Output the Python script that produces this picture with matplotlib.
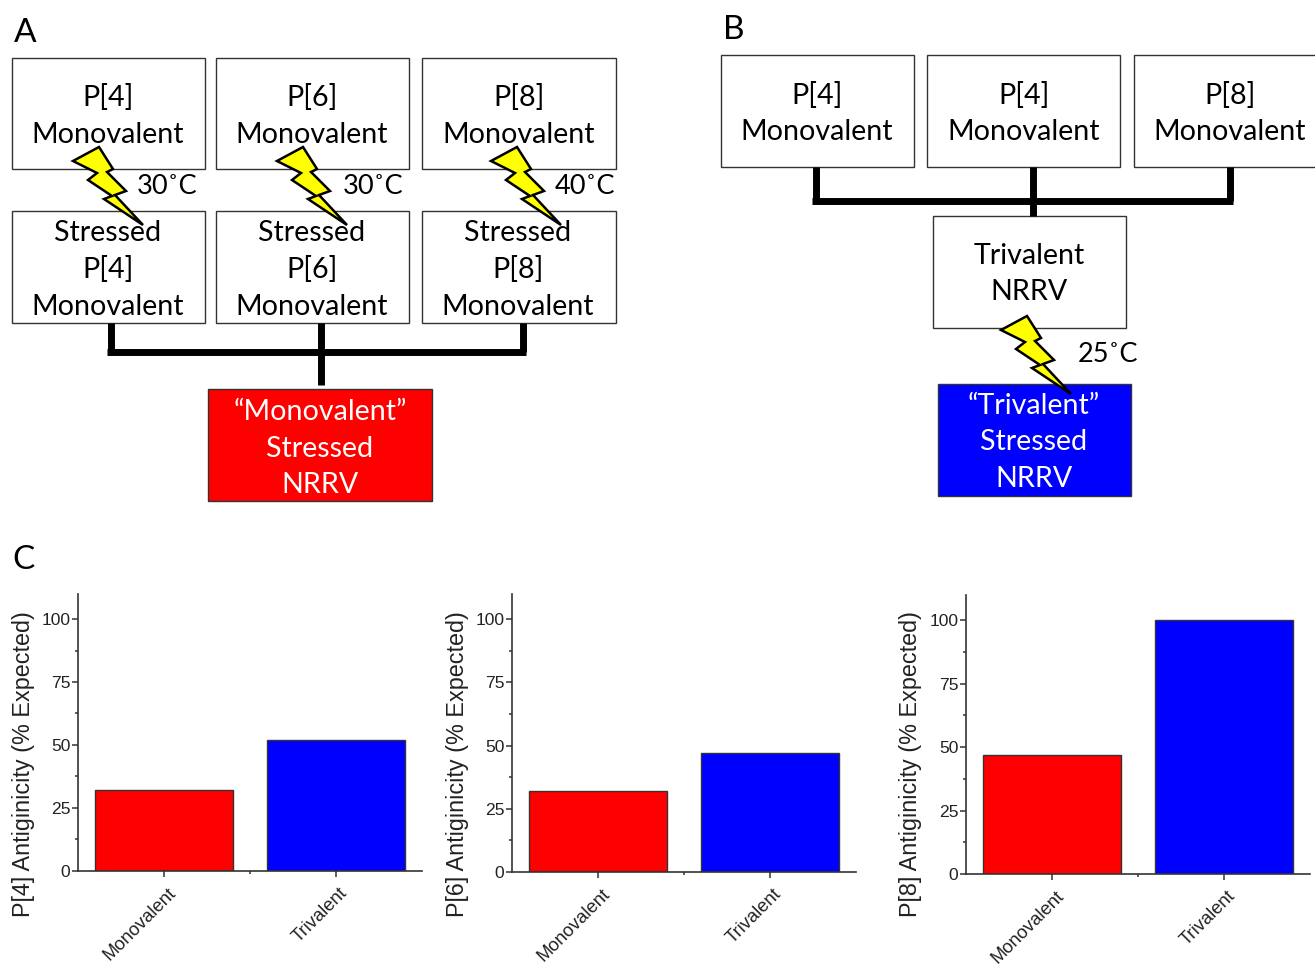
# Panels A/B: vaccine stress schematics, panel C: antigenicity bars

import matplotlib
matplotlib.use("Agg")
import matplotlib.pyplot as plt
from matplotlib.patches import Polygon, Rectangle
from matplotlib.transforms import ScaledTranslation

# ===== data =====
CATEGORIES = ["Monovalent", "Trivalent"]
P4_VALUES = [32, 52]
P6_VALUES = [32, 47]
P8_VALUES = [47, 100]
Y_TICKS = [0, 25, 50, 75, 100]
Y_LABELS = ["P[4] Antiginicity (% Expected)", "P[6] Antiginicity (% Expected)", "P[8] Antiginicity (% Expected)"]

W, H = 1315, 966
DIAGRAM_FONT = ["Lato", "DejaVu Sans"]
CHART_FONT = "Liberation Sans"

fig = plt.figure(figsize=(W / 100, H / 100), dpi=100)

# whole-figure axes in pixel coords for the schematics
bg = fig.add_axes([0, 0, 1, 1])
bg.set_xlim(0, W)
bg.set_ylim(H, 0)
bg.axis("off")


def box(x0, y0, x1, y1, lines, y_lines, text_x, fc="white", tc="black"):
    bg.add_patch(Rectangle((x0, y0), x1 - x0, y1 - y0, fc=fc, ec="#333333", lw=1.0, zorder=2))
    for line, y in zip(lines, y_lines):
        bg.text(text_x, y + 2, line, color=tc, ha="center", va="center", fontsize=20.6,
                family=DIAGRAM_FONT, zorder=5)


def bolt(dx, dy):
    pts = [(99, 147), (113, 169), (107, 172), (126, 191), (115, 195), (143, 225),
           (104, 199), (112, 196), (88, 180), (97, 173), (73, 161)]
    bg.add_patch(Polygon([(x + dx, y + dy) for x, y in pts], closed=True, fc="#ffff00",
                         ec="black", lw=1.8, joinstyle="miter", zorder=4))


def connector(segments):
    for (x0, y0, x1, y1) in segments:
        bg.plot([x0, x1], [y0, y1], color="black", lw=5.0, solid_capstyle="butt", zorder=3)


def temp(x, y, label):
    bg.text(x, y + 2, label, fontsize=19.5, family=DIAGRAM_FONT, ha="center", va="center", zorder=5)


# Panel A
bg.text(14, 33, "A", fontsize=24, family=DIAGRAM_FONT, va="center")
box(12, 58, 205, 169, ["P[4]", "Monovalent"], [96, 133], 108)
box(216, 58, 409, 169, ["P[6]", "Monovalent"], [96, 133], 312)
box(422, 58, 616, 169, ["P[8]", "Monovalent"], [96, 133], 519)
box(12, 211, 205, 323, ["Stressed", "P[4]", "Monovalent"], [231, 268, 305], 108)
box(216, 211, 409, 323, ["Stressed", "P[6]", "Monovalent"], [231, 268, 305], 312)
box(422, 211, 616, 323, ["Stressed", "P[8]", "Monovalent"], [231, 268, 305], 518)
box(208, 389, 432, 501, ["\u201cMonovalent\u201d", "Stressed", "NRRV"], [410, 447, 483], 320,
    fc="#ff0000", tc="white")
connector([(107.5, 352, 526.5, 352), (111, 323, 111, 352), (321, 323, 321, 385), (523, 323, 523, 352)])
bolt(0, 0)
bolt(204, 0)
bolt(418, 0)
temp(167, 185, "30\u02daC")
temp(373, 185, "30\u02daC")
temp(585, 185, "40\u02daC")

# Panel B
bg.text(723, 30, "B", fontsize=24, family=DIAGRAM_FONT, va="center")
box(721, 55, 914, 167, ["P[4]", "Monovalent"], [93, 130], 817)
box(927, 55, 1120, 167, ["P[4]", "Monovalent"], [93, 130], 1024)
box(1134, 55, 1327, 167, ["P[8]", "Monovalent"], [93, 130], 1230)
box(933, 216, 1126, 328, ["Trivalent", "NRRV"], [254, 290], 1029)
box(938, 384, 1131, 496, ["\u201cTrivalent\u201d", "Stressed", "NRRV"], [404, 440, 477], 1034,
    fc="#0000ff", tc="white")
connector([(812.5, 201, 1233.5, 201), (816, 167, 816, 201), (1033, 167, 1033, 216), (1230, 167, 1230, 201)])
bolt(928, 169)
temp(1108, 353, "25\u02daC")

# Panel C
bg.text(12, 560, "C", fontsize=24, family=DIAGRAM_FONT, va="center")


def bar_panel(left, right, top, bottom, values, ylabel, label_x):
    ax = fig.add_axes([left / W, 1 - bottom / H, (right - left) / W, (bottom - top) / H])
    ax.patch.set_alpha(0)
    ax.bar([0, 1], values, width=0.8, color=["#ff0000", "#0000ff"], edgecolor="#333333", linewidth=1)
    ax.set_xlim(-0.5, 1.5)
    ax.set_ylim(0, 110)
    ax.spines["top"].set_visible(False)
    ax.spines["right"].set_visible(False)
    ax.spines["left"].set_color("#333333")
    ax.spines["bottom"].set_color("#333333")
    ax.spines["left"].set_linewidth(1.2)
    ax.spines["bottom"].set_linewidth(1.2)
    ax.set_yticks(Y_TICKS)
    ax.set_yticks([12.5, 37.5, 62.5, 87.5], minor=True)
    ax.set_xticks([0, 1])
    ax.set_xticks([0.5], minor=True)
    ax.tick_params(axis="both", which="major", length=4, width=1.1, color="#333333")
    ax.tick_params(axis="both", which="minor", length=2.5, width=1.1, color="#333333")
    ax.tick_params(axis="y", which="major", pad=1.5)
    ax.set_yticklabels([str(t) for t in Y_TICKS], fontsize=12.6, family=CHART_FONT, color="#222222")
    ax.set_xticklabels(CATEGORIES, fontsize=13.2, family=CHART_FONT, color="#222222",
                       rotation=45, ha="right", rotation_mode="anchor")
    ax.tick_params(axis="x", which="major", pad=6)
    # nudge the rotated labels to the right of the tick
    shift = ScaledTranslation(3 / 100, 0, fig.dpi_scale_trans)
    for lab in ax.get_xticklabels():
        lab.set_transform(lab.get_transform() + shift)
    ax.set_ylabel(ylabel, fontsize=16.8, family=CHART_FONT, color="#222222", va="center")
    ax.yaxis.set_label_coords((label_x + 3 - left) / (right - left), (bottom - 764) / (bottom - top))
    return ax


bar_panel(78, 422, 594, 870.7, P4_VALUES, Y_LABELS[0], 21)
bar_panel(512, 856, 594, 872, P6_VALUES, Y_LABELS[1], 455)
bar_panel(966, 1310, 595, 874, P8_VALUES, Y_LABELS[2], 908)

fig.savefig("out.png", dpi=100)
